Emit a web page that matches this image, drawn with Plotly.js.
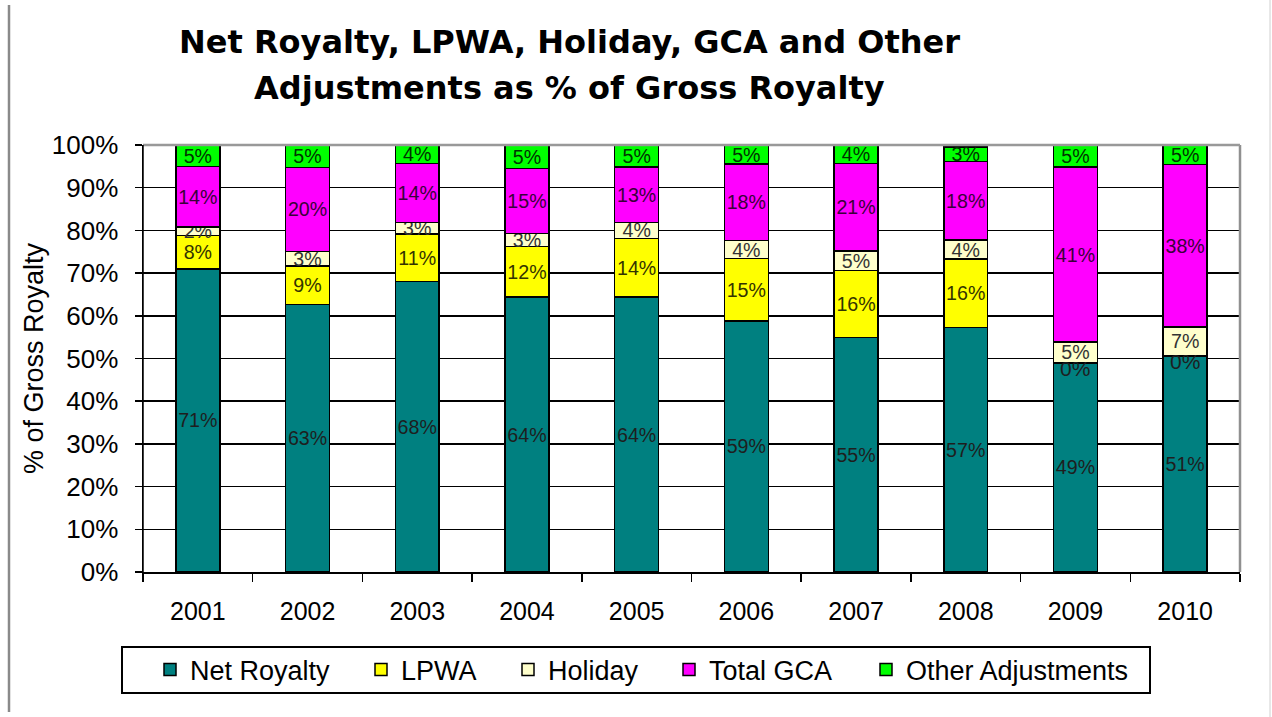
<!DOCTYPE html>
<html>
<head>
<meta charset="utf-8">
<script src="https://cdn.plot.ly/plotly-3.0.1.min.js"></script>
<style>
  html, body { margin: 0; padding: 0; background: #fff; }
  #chart { width: 1272px; height: 717px; }
</style>
</head>
<body>
<div id="chart"></div>
<script>
const years = ['2001','2002','2003','2004','2005','2006','2007','2008','2009','2010'];
const netRoyalty = [0.710, 0.627, 0.680, 0.644, 0.644, 0.588, 0.549, 0.573, 0.490, 0.506];
const lpwa       = [0.078, 0.090, 0.112, 0.118, 0.137, 0.146, 0.157, 0.160, 0.000, 0.000];
const holiday    = [0.020, 0.034, 0.026, 0.031, 0.038, 0.042, 0.046, 0.044, 0.049, 0.068];
const totalGCA   = [0.142, 0.196, 0.139, 0.152, 0.130, 0.179, 0.205, 0.184, 0.409, 0.380];
const otherAdj   = [0.050, 0.053, 0.043, 0.054, 0.051, 0.045, 0.043, 0.034, 0.052, 0.046];

const seriesNames  = ['Net Royalty', 'LPWA', 'Holiday', 'Total GCA', 'Other Adjustments'];
const seriesValues = [netRoyalty, lpwa, holiday, totalGCA, otherAdj];
const seriesColors = ['#008080', '#FFFF00', '#FFFFCC', '#FF00FF', '#00FF00'];
const textColors   = ['#1e1e1e', '#333300', '#333333', '#3a003a', '#003300'];
const titleLines   = ['Net Royalty, LPWA, Holiday, GCA and Other', 'Adjustments as % of Gross Royalty'];

const FONT = 'Liberation Sans, Arial, sans-serif';
const TITLE_FONT = 'DejaVu Sans, Liberation Sans, Arial, sans-serif';

// plot-area geometry (pixels) used to place the legend boxes / title in paper units
const PL = 143, PW = 1097, PT = 145, PH = 427;
const px2x = px => (px - PL) / PW;
const px2y = py => (PT + PH - py) / PH;

const legendNames = ['legend', 'legend2', 'legend3', 'legend4', 'legend5'];
const legendLeft  = [150, 361, 508, 669, 866];

const traces = seriesNames.map((name, i) => ({
  type: 'bar',
  name: name,
  legend: legendNames[i],
  x: years,
  y: seriesValues[i],
  marker: { color: seriesColors[i], line: { color: '#000000', width: 1.5 } },
  text: seriesValues[i].map(v => Math.round(v * 100) + '%'),
  textposition: 'inside',
  insidetextanchor: 'middle',
  textangle: 0,
  textfont: { family: FONT, size: 21, color: textColors[i] },
  cliponaxis: false,
  hoverinfo: 'x+y+name'
}));

// labels for zero-height LPWA segments (drawn at the top of Net Royalty)
const zeroLabels = [];
lpwa.forEach((v, i) => {
  if (v === 0) {
    zeroLabels.push({
      x: i, y: netRoyalty[i], xref: 'x', yref: 'y',
      text: '0%', showarrow: false, yanchor: 'middle', yshift: -6,
      font: { family: FONT, size: 21, color: '#1e1e1e' }
    });
  }
});

const titleAnnotations = titleLines.map((t, i) => ({
  text: '<b>' + t + '</b>',
  xref: 'paper', yref: 'paper',
  x: px2x(569), y: px2y(i === 0 ? 42 : 88),
  xanchor: 'center', yanchor: 'middle',
  showarrow: false,
  font: { family: TITLE_FONT, size: 32, color: '#000000' }
}));

const layout = {
  width: 1272,
  height: 717,
  paper_bgcolor: '#ffffff',
  plot_bgcolor: '#ffffff',
  barmode: 'stack',
  bargap: 0.6,
  font: { family: FONT, size: 25, color: '#000000' },
  uniformtext: { mode: 'show', minsize: 19 },
  margin: { l: PL, r: 1272 - PL - PW, t: PT, b: 717 - PT - PH },
  xaxis: {
    type: 'category',
    categoryarray: years,
    showline: true,
    linecolor: '#000000',
    linewidth: 1.5,
    ticks: 'outside',
    tickson: 'boundaries',
    ticklen: 8,
    tickwidth: 1.5,
    tickcolor: '#000000',
    showgrid: false,
    tickfont: { size: 25 },
    ticklabelstandoff: 16
  },
  yaxis: {
    range: [0, 1],
    tickvals: [0,0.1,0.2,0.3,0.4,0.5,0.6,0.7,0.8,0.9,1],
    ticktext: ['0%','10%','20%','30%','40%','50%','60%','70%','80%','90%','100%'],
    showgrid: true,
    gridcolor: '#000000',
    gridwidth: 1.5,
    showline: true,
    linecolor: '#000000',
    linewidth: 1.5,
    ticks: 'outside',
    ticklen: 7,
    tickwidth: 1.5,
    tickcolor: '#000000',
    tickfont: { size: 26 },
    ticklabelstandoff: 11,
    zeroline: false,
    title: { text: '% of Gross Royalty', font: { size: 27 }, standoff: 0 }
  },
  showlegend: true,
  annotations: titleAnnotations.concat(zeroLabels),
  shapes: [
    { type: 'line', xref: 'paper', yref: 'paper', x0: 1, x1: 1, y0: 0, y1: 1,
      line: { color: '#909090', width: 2.5 } },
    { type: 'line', xref: 'paper', yref: 'paper', x0: 0, x1: 1, y0: 1, y1: 1,
      line: { color: '#999999', width: 2.5 } },
    { type: 'line', xref: 'paper', yref: 'paper', x0: 0, x1: 0, y0: 0, y1: 1,
      line: { color: '#000000', width: 1.5 } },
    { type: 'line', xref: 'paper', yref: 'paper', x0: px2x(9), x1: px2x(9),
      y0: px2y(712), y1: px2y(5),
      line: { color: '#8a8a8a', width: 2.5 } },
    { type: 'line', xref: 'paper', yref: 'paper', x0: px2x(1270), x1: px2x(1270),
      y0: px2y(717), y1: px2y(0),
      line: { color: '#d0d0d0', width: 1 } },
    { type: 'rect', xref: 'paper', yref: 'paper', x0: px2x(122), x1: px2x(1150),
      y0: px2y(693), y1: px2y(647),
      line: { color: '#000000', width: 2 }, fillcolor: 'rgba(0,0,0,0)' }
  ]
};

legendNames.forEach((ln, i) => {
  layout[ln] = {
    orientation: 'h',
    x: px2x(legendLeft[i]),
    xanchor: 'left',
    y: px2y(670),
    yanchor: 'middle',
    borderwidth: 0,
    bgcolor: 'rgba(0,0,0,0)',
    font: { size: 27 },
    itemwidth: 30
  };
});

Plotly.newPlot('chart', traces, layout, { displayModeBar: false, staticPlot: true });
</script>
</body>
</html>
